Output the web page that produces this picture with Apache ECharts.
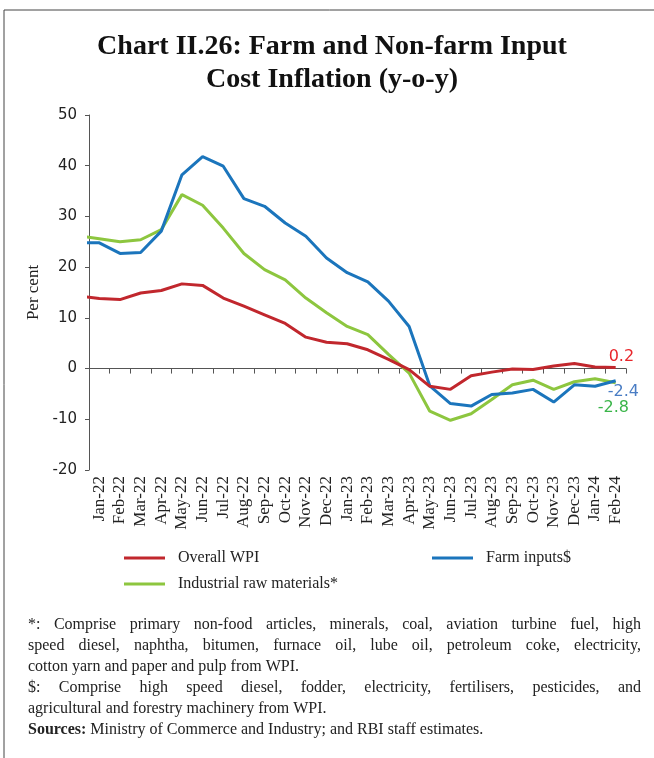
<!DOCTYPE html>
<html>
<head>
<meta charset="utf-8">
<script src="https://cdn.jsdelivr.net/npm/echarts@6/dist/echarts.min.js"></script>
<style>
  html, body { margin: 0; padding: 0; background: #fff; }
  #chart { width: 654px; height: 758px; }
</style>
</head>
<body>
<div id="chart"></div>
<script>
// ---- Data ----
const categories = ['Jan-22','Feb-22','Mar-22','Apr-22','May-22','Jun-22','Jul-22','Aug-22','Sep-22','Oct-22','Nov-22','Dec-22',
  'Jan-23','Feb-23','Mar-23','Apr-23','May-23','Jun-23','Jul-23','Aug-23','Sep-23','Oct-23','Nov-23','Dec-23','Jan-24','Feb-24'];
const overallWPI = [13.8,13.6,14.9,15.4,16.7,16.4,13.9,12.3,10.6,8.9,6.2,5.2,4.9,3.7,1.8,-0.2,-3.5,-4.1,-1.4,-0.7,-0.1,-0.2,0.5,1.0,0.3,0.2];
const farmInputs = [24.8,22.7,22.9,27.1,38.2,41.8,39.9,33.5,32.0,28.7,26.1,21.8,18.9,17.1,13.3,8.3,-3.4,-6.9,-7.4,-5.1,-4.8,-4.1,-6.6,-3.2,-3.5,-2.4];
const industrialRaw = [25.6,25.0,25.4,27.4,34.3,32.2,27.7,22.7,19.5,17.5,13.9,11.0,8.3,6.7,2.8,-0.9,-8.4,-10.2,-8.9,-6.1,-3.2,-2.3,-4.1,-2.6,-2.0,-2.8];
// Dec-21 values (only the clipped stub left of Jan-22 is visible): WPI, Farm, Industrial
const dec21Values = [14.3, 24.8, 26.2];
const seriesNames = ['Overall WPI', 'Farm inputs$', 'Industrial raw materials*'];
const yTicks = { min: -20, max: 50, interval: 10 };
const titleLines = ['Chart II.26: Farm and Non-farm Input', 'Cost Inflation (y-o-y)'];
const footLines = [
  '*: Comprise primary non-food articles, minerals, coal, aviation turbine fuel, high',
  'speed diesel, naphtha, bitumen, furnace oil, lube oil, petroleum coke, electricity,',
  'cotton yarn and paper and pulp from WPI.',
  '$: Comprise high speed diesel, fodder, electricity, fertilisers, pesticides, and',
  'agricultural and forestry machinery from WPI.'
];
const footJustify = [true, true, false, true, false];
const sourcesLabel = 'Sources:';
const sourcesText = ' Ministry of Commerce and Industry; and RBI staff estimates.';

// ---- Layout / style ----
const SERIF = '"Liberation Serif", "DejaVu Serif", serif';
const SANS = '"DejaVu Sans", sans-serif';
const colors = ['#C1272D', '#1B75BC', '#8DC63F'];
const labelColors = ['#E8262B', '#4A7DC4', '#3BB54A'];

const chart = echarts.init(document.getElementById('chart'), null, { renderer: 'canvas' });

const ctx = document.createElement('canvas').getContext('2d');
const footFont = '16px ' + SERIF;
ctx.font = footFont;
const FL = 28, FR = 641, FY0 = 625, FDY = 21;
const graphics = [];
graphics.push({ type: 'rect', shape: { x: 4, y: 10, width: 700, height: 800 }, style: { fill: 'none', stroke: '#444', lineWidth: 1 }, silent: true });
titleLines.forEach((t, i) => {
  graphics.push({ type: 'text', x: 332, y: 47 + i * 33, style: { text: t, font: 'bold 28px ' + SERIF, fill: '#111', align: 'center', verticalAlign: 'middle' } });
});
footLines.forEach((line, i) => {
  const y = FY0 + i * FDY;
  if (footJustify[i]) {
    const words = line.split(' ');
    const widths = words.map(w => ctx.measureText(w).width);
    const total = widths.reduce((a, b) => a + b, 0);
    const gap = (FR - FL - total) / (words.length - 1);
    let x = FL;
    words.forEach((w, j) => {
      graphics.push({ type: 'text', x: x, y: y, style: { text: w, font: footFont, fill: '#222', align: 'left', verticalAlign: 'middle' } });
      x += widths[j] + gap;
    });
  } else {
    graphics.push({ type: 'text', x: FL, y: y, style: { text: line, font: footFont, fill: '#222', align: 'left', verticalAlign: 'middle' } });
  }
});
ctx.font = 'bold ' + footFont;
const srcW = ctx.measureText(sourcesLabel).width;
const ySrc = FY0 + footLines.length * FDY;
graphics.push({ type: 'text', x: FL, y: ySrc, style: { text: sourcesLabel, font: 'bold ' + footFont, fill: '#222', align: 'left', verticalAlign: 'middle' } });
graphics.push({ type: 'text', x: FL + srcW, y: ySrc, style: { text: sourcesText, font: footFont, fill: '#222', align: 'left', verticalAlign: 'middle' } });

const legendBase = {
  icon: 'rect', itemWidth: 41, itemHeight: 3, padding: 0,
  textStyle: { fontFamily: SERIF, fontSize: 16, color: '#222', padding: [0, 0, 0, 8] }
};
const endOffsets = [[-15, -11], [-16, 11], [-26, 25]];
const dataArrays = [overallWPI, farmInputs, industrialRaw];

const option = {
  animation: false,
  backgroundColor: '#fff',
  graphic: graphics,
  legend: [
    Object.assign({}, legendBase, { data: [seriesNames[0]], left: 124, top: 550 }),
    Object.assign({}, legendBase, { data: [seriesNames[1]], left: 432, top: 550 }),
    Object.assign({}, legendBase, { data: [seriesNames[2]], left: 124, top: 576 })
  ],
  grid: { left: 89, top: 115, right: 28, bottom: 288, containLabel: false },
  xAxis: [
    {
      type: 'category', data: categories, boundaryGap: true,
      axisLine: { onZero: true, lineStyle: { color: '#555', width: 1 } },
      axisTick: { show: true, interval: 0, length: 5, lineStyle: { color: '#555' } },
      axisLabel: { show: false, interval: 0 }, splitLine: { show: false }
    },
    {
      type: 'category', data: categories, boundaryGap: true, position: 'bottom',
      axisLine: { show: false, onZero: false },
      axisTick: { show: false },
      axisLabel: { rotate: 90, interval: 0, margin: 6, fontFamily: SERIF, fontSize: 17, color: '#222' },
      splitLine: { show: false }
    },
    {
      // hidden positional axis: category i sits at i, the plot spans -0.5 .. n-0.5
      type: 'value', min: -0.5, max: categories.length - 0.5, show: false,
      axisLine: { onZero: false }, splitLine: { show: false }
    }
  ],
  yAxis: {
    type: 'value', min: yTicks.min, max: yTicks.max, interval: yTicks.interval, position: 'left',
    name: 'Per cent', nameLocation: 'middle', nameGap: 41, nameRotate: 90,
    nameTextStyle: { fontFamily: SERIF, fontSize: 17, color: '#222' },
    axisLine: { show: true, onZero: false, lineStyle: { color: '#555', width: 1 } },
    axisTick: { show: true, length: 4, lineStyle: { color: '#555' } },
    axisLabel: { fontFamily: SANS, fontSize: 15, color: '#222', margin: 12 },
    splitLine: { show: false }
  },
  series: dataArrays.map((arr, i) => ({
    name: seriesNames[i], type: 'line', xAxisIndex: 2, clip: true,
    data: [[-1, dec21Values[i]]].concat(arr.map((v, k) => [k, v])),
    showSymbol: false, symbol: 'none',
    lineStyle: { color: colors[i], width: 3 }, itemStyle: { color: colors[i] },
    z: 3 - i,
    endLabel: {
      show: true, formatter: p => (+p.value[1]).toFixed(1),
      color: labelColors[i], fontFamily: SANS, fontSize: 16, offset: endOffsets[i]
    }
  }))
};
chart.setOption(option);
</script>
</body>
</html>
